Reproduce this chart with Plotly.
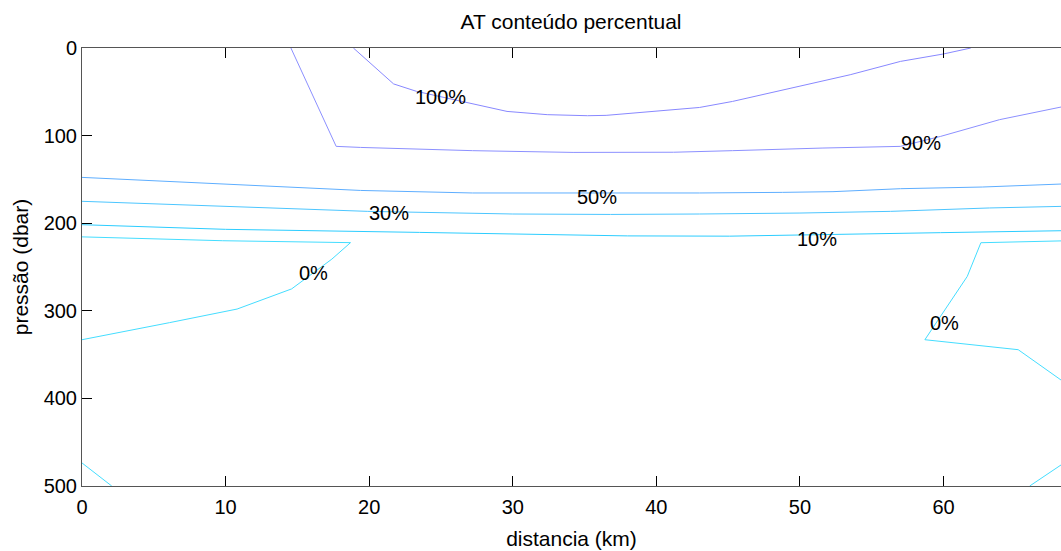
import plotly.graph_objects as go

# Contour lines of the AT percentage along the section (distance km, pressure dbar)
c100_x = [18.9, 21.7, 23.3, 26.3, 29.6, 32.4, 35.2, 36.5, 39.1, 43.0, 45.3, 50.0, 53.5, 57.0, 60.0, 61.9]
c100_y = [0, 41, 49.5, 60, 72.4, 76.1, 77.3, 76.9, 73.5, 67.9, 61, 43.8, 30.5, 15.3, 6.8, 0]

c90_x = [14.55, 17.7, 19.4, 22.5, 27.2, 34.2, 41.2, 45.3, 48.8, 51.6, 57.0, 59.8, 63.9, 68.18]
c90_y = [0, 112.3, 113.5, 114.8, 117.2, 119.2, 119.0, 117.2, 115.3, 114.2, 112.3, 100.9, 81.8, 67.4]

c50_x = [0, 10, 19.4, 27.2, 35, 43.0, 48.8, 52.3, 57.0, 62.7, 68.18]
c50_y = [147.7, 155, 162.6, 165.5, 165.8, 165.5, 164.8, 164, 160.6, 158.7, 155.3]

c30_x = [0, 10, 19.9, 30, 36.8, 43.0, 50.0, 56.3, 63.2, 68.18]
c30_y = [175, 181, 186.5, 189.5, 190, 189.5, 188.4, 186.5, 182.6, 180.8]

c10_x = [0, 10, 23.5, 33.3, 38, 45.1, 52.8, 59.8, 68.18]
c10_y = [201.7, 207, 210.5, 213.7, 214.5, 214.8, 212.3, 210.8, 208.6]

c0a_x = [0, 9.8, 18.7, 17.4, 14.6, 10.8, 6.1, 0]
c0a_y = [215.6, 220.0, 222.2, 241, 275, 298, 313.5, 333]

c0b_x = [68.18, 62.6, 61.65, 58.7, 65.2, 68.18]
c0b_y = [220.2, 222.3, 260.8, 333, 344.4, 379]

c0c_x = [0, 2.07]
c0c_y = [473.7, 500]

c0d_x = [66.0, 68.18]
c0d_y = [500, 476]

# (text, x, y) of the inline contour labels
label_text = ["100%", "90%", "50%", "30%", "10%", "0%", "0%"]
label_x = [25.0, 58.4, 35.9, 21.4, 51.2, 16.1, 60.1]
label_y = [56, 109, 169.7, 188.4, 218.5, 256.5, 313.5]

x_ticks = [0, 10, 20, 30, 40, 50, 60]
y_ticks = [0, 100, 200, 300, 400, 500]

# one colour per level, taken from the "cool" colormap
level_colors = {
    "100": "#8888ff",
    "90": "#8c90ff",
    "50": "#5eaeff",
    "30": "#4cc6ff",
    "10": "#2ccdff",
    "0": "#44ddff",
}

FONT = "Liberation Sans, Arial, Helvetica, sans-serif"

fig = go.Figure()

lines = [
    (c100_x, c100_y, "100"),
    (c90_x, c90_y, "90"),
    (c50_x, c50_y, "50"),
    (c30_x, c30_y, "30"),
    (c10_x, c10_y, "10"),
    (c0a_x, c0a_y, "0"),
    (c0b_x, c0b_y, "0"),
    (c0c_x, c0c_y, "0"),
    (c0d_x, c0d_y, "0"),
]
for xs, ys, lev in lines:
    fig.add_trace(go.Scatter(
        x=xs, y=ys, mode="lines",
        line=dict(color=level_colors[lev], width=1),
        showlegend=False, hoverinfo="skip",
    ))

for t, x, y in zip(label_text, label_x, label_y):
    fig.add_annotation(
        x=x, y=y, xref="x", yref="y", text=t, showarrow=False,
        font=dict(family=FONT, size=20, color="black"),
        xanchor="center", yanchor="middle",
    )

fig.update_layout(
    width=1061, height=551,
    margin=dict(l=82, r=0, t=48, b=65),
    paper_bgcolor="white", plot_bgcolor="white",
    font=dict(family=FONT, size=20, color="black"),
    title=dict(
        text="AT conteúdo percentual",
        x=571 / 1061, xanchor="center",
        y=1 - 22 / 551, yanchor="middle", yref="container",
        font=dict(family=FONT, size=21, color="black"),
    ),
    showlegend=False,
)

fig.update_xaxes(
    range=[0, 68.18], tickvals=x_ticks, ticktext=[str(v) for v in x_ticks],
    ticks="inside", ticklen=10, tickcolor="black", tickwidth=1,
    tickfont=dict(family=FONT, size=20), ticklabelstandoff=3,
    showline=True, linecolor="#555555", linewidth=1, mirror="ticks",
    showgrid=False, zeroline=False,
    title=dict(text="distancia (km)", font=dict(family=FONT, size=21), standoff=14),
)
fig.update_yaxes(
    range=[500, 0], tickvals=y_ticks, ticktext=[str(v) for v in y_ticks],
    ticks="inside", ticklen=10, tickcolor="black", tickwidth=1,
    tickfont=dict(family=FONT, size=20),
    showline=True, linecolor="#555555", linewidth=1, mirror=False,
    showgrid=False, zeroline=False,
    title=dict(text="pressão (dbar)", font=dict(family=FONT, size=21), standoff=9),
)

fig.write_html("out.html")
